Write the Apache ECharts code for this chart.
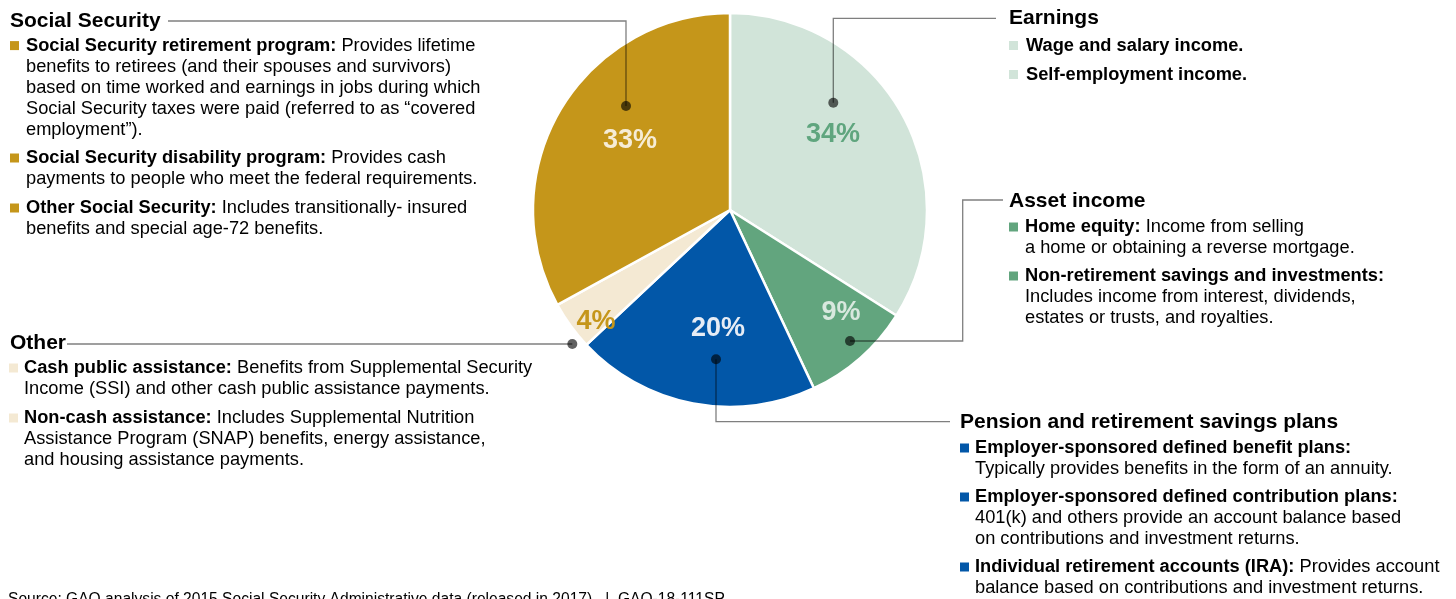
<!DOCTYPE html>
<html>
<head>
<meta charset="utf-8">
<script src="https://cdn.jsdelivr.net/npm/echarts@6/dist/echarts.min.js"></script>
<style>
html,body{margin:0;padding:0;background:#fff;}
#chart{width:1456px;height:599px;}
</style>
</head>
<body>
<div id="chart"></div>
<script>
// ---- data ----
const categories = ['Earnings', 'Asset income', 'Pension and retirement savings plans', 'Other', 'Social Security'];
const shares = [34, 9, 20, 4, 33];

// ---- styles ----
const sliceColors = ['#d1e4d9', '#62a57e', '#0257a8', '#f4e9d3', '#c5961a'];
const labelColors = ['#5fa57e', '#d8e8de', '#e6ecf5', '#c5961a', '#f6ecd6'];
const FONT = "'Liberation Sans', Arial, Helvetica, sans-serif";
const CX = 730, CY = 210, R = 197;
// label centre offsets from pie centre
const labelOffsets = [[103, -75], [111, 103], [-12, 119], [-134, 112], [-100, -69]];

// ---- annotation layout ----
const blocks = [
  { title: 'Social Security', tx: 10, ty: 21, bx: 10, x: 26, color: '#c5961a', items: [
    { y: 45.6, lines: ['{b|Social Security retirement program:} Provides lifetime', 'benefits to retirees (and their spouses and survivors)', 'based on time worked and earnings in jobs during which', 'Social Security taxes were paid (referred to as \u201ccovered', 'employment\u201d).'] },
    { y: 158, lines: ['{b|Social Security disability program:} Provides cash', 'payments to people who meet the federal requirements.'] },
    { y: 208, lines: ['{b|Other Social Security:} Includes transitionally- insured', 'benefits and special age-72 benefits.'] }
  ]},
  { title: 'Earnings', tx: 1009, ty: 18, bx: 1009, x: 1026, color: '#d1e4d9', items: [
    { y: 45.5, lines: ['{b|Wage and salary income.}'] },
    { y: 74.5, lines: ['{b|Self-employment income.}'] }
  ]},
  { title: 'Asset income', tx: 1009, ty: 201, bx: 1009, x: 1025, color: '#62a57e', items: [
    { y: 227, lines: ['{b|Home equity:} Income from selling', 'a home or obtaining a reverse mortgage.'] },
    { y: 276, lines: ['{b|Non-retirement savings and investments:}', 'Includes income from interest, dividends,', 'estates or trusts, and royalties.'] }
  ]},
  { title: 'Pension and retirement savings plans', tx: 960, ty: 422, bx: 960, x: 975, color: '#0257a8', items: [
    { y: 448, lines: ['{b|Employer-sponsored defined benefit plans:}', 'Typically provides benefits in the form of an annuity.'] },
    { y: 497, lines: ['{b|Employer-sponsored defined contribution plans:}', '401(k) and others provide an account balance based', 'on contributions and investment returns.'] },
    { y: 567, lines: ['{b|Individual retirement accounts (IRA):} Provides account', 'balance based on contributions and investment returns.'] }
  ]},
  { title: 'Other', tx: 10, ty: 343, bx: 9, x: 24, color: '#f4e9d3', items: [
    { y: 368, lines: ['{b|Cash public assistance:} Benefits from Supplemental Security', 'Income (SSI) and other cash public assistance payments.'] },
    { y: 418, lines: ['{b|Non-cash assistance:} Includes Supplemental Nutrition', 'Assistance Program (SNAP) benefits, energy assistance,', 'and housing assistance payments.'] }
  ]}
];

const leaders = [
  { pts: [[168, 21], [626, 21], [626, 106]], dot: [626, 106] },
  { pts: [[996, 18.3], [833.3, 18.3], [833.3, 102.7]], dot: [833.3, 102.7] },
  { pts: [[850, 341], [962.7, 341], [962.7, 200], [1003, 200]], dot: [850, 341] },
  { pts: [[716, 359.3], [716, 421.7], [950, 421.7]], dot: [716, 359.3] },
  { pts: [[67, 344], [572.3, 344]], dot: [572.3, 344] }
];

const LH = 21;
const BODY = 18.25;
const graphics = [];
blocks.forEach(function (b) {
  graphics.push({ type: 'text', z: 50, style: { text: b.title, x: b.tx, y: b.ty, font: 'bold 21px ' + FONT, fill: '#000', textVerticalAlign: 'middle' } });
  b.items.forEach(function (it) {
    graphics.push({ type: 'rect', z: 50, shape: { x: b.bx, y: it.y - 4.5, width: 9, height: 9 }, style: { fill: b.color } });
    graphics.push({ type: 'text', z: 50, style: {
      text: it.lines.join('\n'), x: b.x, y: it.y - LH / 2,
      fontSize: BODY, fontFamily: FONT, fill: '#000', lineHeight: LH,
      textVerticalAlign: 'top',
      rich: { b: { fontSize: BODY, fontFamily: FONT, fontWeight: 'bold', fill: '#000', lineHeight: LH } }
    } });
  });
});
leaders.forEach(function (l) {
  graphics.push({ type: 'polyline', z: 60, shape: { points: l.pts }, style: { stroke: 'rgba(0,0,0,0.5)', lineWidth: 1.3, fill: null } });
  graphics.push({ type: 'circle', z: 61, shape: { cx: l.dot[0], cy: l.dot[1], r: 5 }, style: { fill: 'rgba(0,0,0,0.62)' } });
});
graphics.push({ type: 'text', z: 50, style: {
  text: 'Source: GAO analysis of 2015 Social Security Administrative data (released in 2017).  |  GAO-18-111SP',
  x: 8, y: 600, font: '15.6px ' + FONT, fill: '#000', textVerticalAlign: 'middle' } });

const chart = echarts.init(document.getElementById('chart'), null, { renderer: 'canvas' });
chart.setOption({
  animation: false,
  backgroundColor: '#fff',
  series: [{
    type: 'pie',
    center: [CX, CY],
    radius: R,
    startAngle: 90,
    clockwise: true,
    silent: true,
    itemStyle: { borderColor: '#fff', borderWidth: 2.5 },
    label: { show: true, position: 'inside', formatter: '{c}%', fontSize: 27, fontWeight: 'bold', fontFamily: FONT },
    labelLine: { show: false },
    labelLayout: function (p) {
      const o = labelOffsets[p.dataIndex];
      return { x: CX + o[0], y: CY + o[1], align: 'center', verticalAlign: 'middle' };
    },
    data: categories.map(function (c, i) {
      return { name: c, value: shares[i], itemStyle: { color: sliceColors[i] }, label: { color: labelColors[i] } };
    })
  }],
  graphic: { elements: graphics }
});
</script>
</body>
</html>
